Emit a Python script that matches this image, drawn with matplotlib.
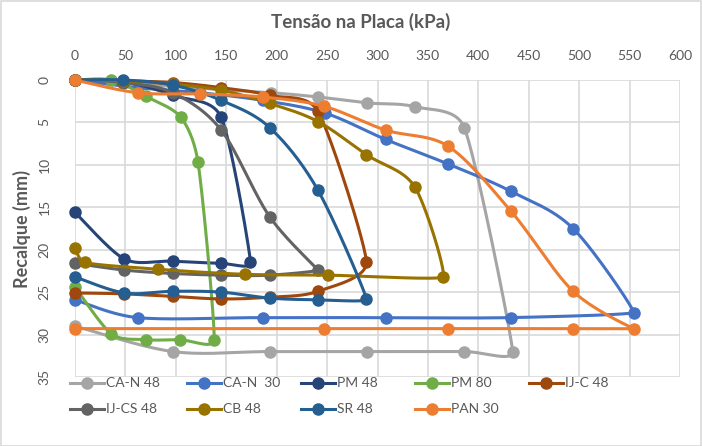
import numpy as np
import matplotlib
matplotlib.use("Agg")
import matplotlib.pyplot as plt
from matplotlib.lines import Line2D
from matplotlib.patches import Rectangle

plt.rcParams['font.family'] = ['Lato', 'DejaVu Sans']

# ---------------- data ----------------
series_names = ["CA-N 48", "CA-N  30", "PM 48", "PM 80", "IJ-C 48",
                "IJ-CS 48", "CB 48", "SR 48", "PAN 30"]
series_colors = ["#A5A5A5", "#4472C4", "#264478", "#70AD47", "#9E480E",
                 "#636363", "#997300", "#255E91", "#ED7D31"]

can48_x = [0, 194, 241, 290, 337, 386, 434, 386, 290, 193, 97, 0]
can48_y = [0, 1.5, 2.0, 2.7, 3.15, 5.6, 32.0, 32.0, 32.0, 32.0, 32.0, 29.0]

can30_x = [0, 62, 124, 186, 248, 308, 370, 432, 494, 554, 432, 308, 186, 62, 0]
can30_y = [0, 0.9, 1.5, 2.4, 3.9, 7.0, 9.9, 13.1, 17.5, 27.4, 28.0, 28.0, 28.0, 28.0, 25.9]

pm48_x = [0, 48, 97, 145, 174, 145, 97, 49, 0]
pm48_y = [0, 0.2, 1.8, 4.4, 21.5, 21.6, 21.35, 21.1, 15.6]

pm80_x = [0, 36, 70, 105, 122, 138, 104, 70, 36, 0]
pm80_y = [0, 0, 1.9, 4.4, 9.7, 30.6, 30.6, 30.6, 29.9, 24.4]

ijc48_x = [0, 48, 97, 145, 193, 241, 289, 241, 193, 145, 97, 49, 0]
ijc48_y = [0, 0.1, 0.3, 0.9, 1.8, 3.7, 21.5, 24.9, 25.6, 25.8, 25.5, 25.2, 25.1]

ijcs48_x = [0, 48, 97, 145, 193, 241, 193, 145, 97, 49, 0]
ijcs48_y = [0, 0.3, 1.5, 5.9, 16.1, 22.4, 23.0, 23.0, 22.8, 22.4, 21.6]

cb48_x = [0, 48, 97, 145, 193, 241, 289, 337, 365, 251, 169, 82, 10, 0]
cb48_y = [0, 0.1, 0.5, 1.2, 2.75, 4.9, 8.8, 12.6, 23.2, 23.0, 22.9, 22.3, 21.5, 19.8]

sr48_x = [0, 48, 97, 145, 193, 241, 289, 241, 193, 145, 97, 49, 0]
sr48_y = [0, 0, 0.6, 2.4, 5.6, 13.0, 25.8, 25.9, 25.7, 25.0, 24.9, 25.1, 23.2]

pan30_x = [0, 62, 124, 186, 247, 308, 370, 432, 494, 554, 494, 370, 247, 0]
pan30_y = [0, 1.5, 1.65, 2.0, 3.1, 5.9, 7.8, 15.4, 24.9, 29.3, 29.3, 29.3, 29.3, 29.3]

series_x = [can48_x, can30_x, pm48_x, pm80_x, ijc48_x, ijcs48_x, cb48_x, sr48_x, pan30_x]
series_y = [can48_y, can30_y, pm48_y, pm80_y, ijc48_y, ijcs48_y, cb48_y, sr48_y, pan30_y]

x_ticks = list(range(0, 601, 50))
y_ticks = list(range(0, 36, 5))

# ---------------- layout ----------------
W, H = 702, 446
L, R, T, B = 75, 680, 80, 377
TXT = "#595959"

fig = plt.figure(figsize=(W / 100, H / 100), dpi=100)
fig.patch.set_facecolor("white")
ax = fig.add_axes([L / W, 1 - B / H, (R - L) / W, (B - T) / H])
ax.set_xlim(0, 600)
ax.set_ylim(35, 0)
ax.xaxis.tick_top()
ax.set_xticks(x_ticks)
ax.set_yticks(y_ticks)
ax.grid(True, color="#D9D9D9", lw=1.2)
ax.set_axisbelow(True)
for s in ax.spines.values():
    s.set_visible(False)
ax.tick_params(length=0, colors=TXT, labelsize=10)
ax.tick_params(axis='x', pad=13)
ax.tick_params(axis='y', pad=22)
for lab in ax.get_yticklabels():
    lab.set_rotation(90)
    lab.set_va("center")
    lab.set_ha("center")

sx = (R - L) / 600.0
sy = (B - T) / 35.0


def smooth(xs, ys, n=30):
    P = np.column_stack([np.asarray(xs, float) * sx, np.asarray(ys, float) * sy])
    N = len(P)
    tan = np.zeros_like(P)
    for i in range(N):
        p0 = P[i - 1] if i > 0 else P[i]
        p2 = P[i + 1] if i < N - 1 else P[i]
        tv = (p2 - p0) / 6.0
        if 0 < i < N - 1:
            a = P[i] - P[i - 1]
            b = P[i + 1] - P[i]
            c = np.dot(a, b) / (np.linalg.norm(a) * np.linalg.norm(b) + 1e-9)
            tv = tv * ((1 + c) / 2.0) ** 1.3
        tan[i] = tv

    def lim(v, seg):
        nv = np.linalg.norm(v)
        mx = 0.4 * seg
        return v if nv <= mx or nv == 0 else v * mx / nv

    out = [P[0]]
    t = np.linspace(0, 1, n)[1:, None]
    for i in range(N - 1):
        p1, p2 = P[i], P[i + 1]
        seg = np.linalg.norm(p2 - p1)
        c1 = p1 + lim(tan[i], seg)
        c2 = p2 - lim(tan[i + 1], seg)
        bez = (1 - t) ** 3 * p1 + 3 * (1 - t) ** 2 * t * c1 + 3 * (1 - t) * t ** 2 * c2 + t ** 3 * p2
        out.extend(bez)
    out = np.array(out)
    return out[:, 0] / sx, out[:, 1] / sy


for xs, ys, c in zip(series_x, series_y, series_colors):
    cx, cy = smooth(xs, ys)
    ax.plot(cx, cy, color=c, lw=2.2, solid_capstyle="round", solid_joinstyle="round",
            clip_on=False)
    ax.plot(xs, ys, "o", color=c, ms=8, clip_on=False)

fig.text(361 / W, 1 - 22 / H, "Tensão na Placa (kPa)", ha="center", va="center",
         fontsize=13.5, fontweight="bold", color=TXT)
fig.text(22 / W, 1 - 229 / H, "Recalque (mm)", ha="center", va="center",
         rotation=90, fontsize=13, fontweight="bold", color=TXT)

# legend (manual, Excel style, row-major)
leg_cols_x = [87, 204, 318, 432, 546]
leg_rows_y = [383, 409]
for k, (name, c) in enumerate(zip(series_names, series_colors)):
    r, cc = divmod(k, 5)
    xm, ym = leg_cols_x[cc], leg_rows_y[r]
    fig.add_artist(Line2D([(xm - 17) / W, (xm + 17) / W], [1 - ym / H] * 2,
                          color=c, lw=2.2, transform=fig.transFigure))
    fig.add_artist(Line2D([xm / W], [1 - ym / H], marker="o", ms=8, color=c,
                          transform=fig.transFigure))
    fig.text((xm + 19) / W, 1 - ym / H, name, ha="left", va="center",
             fontsize=10, color=TXT)

fig.add_artist(Rectangle((0.5 / W, 0.5 / H), 1 - 1.5 / W, 1 - 1.5 / H, fill=False,
                         edgecolor="#D9D9D9", lw=1.2, transform=fig.transFigure))

fig.savefig("out.png", dpi=100)
